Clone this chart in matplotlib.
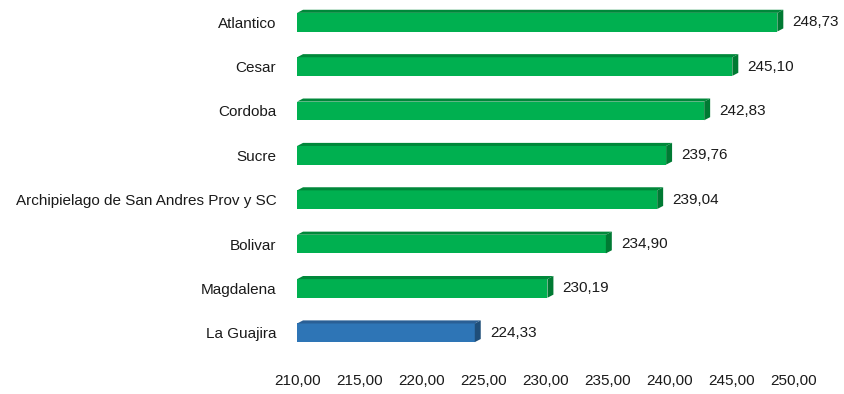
import numpy as np
import matplotlib.pyplot as plt
from matplotlib.patches import Polygon, Rectangle

plt.rcParams['font.family'] = ['Liberation Sans', 'DejaVu Sans']

# data
departamentos = ['Atlantico', 'Cesar', 'Cordoba', 'Sucre',
                 'Archipielago de San Andres Prov y SC', 'Bolivar',
                 'Magdalena', 'La Guajira']
puntajes = [248.73, 245.10, 242.83, 239.76, 239.04, 234.90, 230.19, 224.33]
destacado = 'La Guajira'
x_ticks = [210, 215, 220, 225, 230, 235, 240, 245, 250]

x0 = 210
h = 0.42       # bar thickness (category units)
dx = 0.48      # 3D depth in x (data units)
dy = 0.07      # 3D depth in y (category units)

fig = plt.figure(figsize=(8.44, 3.94), dpi=100)
ax = fig.add_axes([0.352, 0.099, 0.5877, 0.901])

n = len(departamentos)
ys = np.arange(n)[::-1]

for name, v, y in zip(departamentos, puntajes, ys):
    if name == destacado:
        front, top, side = '#2E75B6', '#2A5F95', '#1F4E79'
    else:
        front, top, side = '#00B050', '#00883A', '#007A33'
    yt = y + h / 2
    yb = y - h / 2
    ax.add_patch(Rectangle((x0, yb), v - x0, h, facecolor=front,
                           edgecolor='none'))
    ax.add_patch(Polygon([(x0, yt), (v, yt), (v + dx, yt + dy), (x0 + dx, yt + dy)],
                         closed=True, facecolor=top, edgecolor='none'))
    ax.add_patch(Polygon([(v, yb), (v, yt), (v + dx, yt + dy), (v + dx, yb + dy)],
                         closed=True, facecolor=side, edgecolor='none'))
    ax.text(v + dx + 0.75, y, f'{v:.2f}'.replace('.', ','), va='center',
            ha='left', fontsize=11, color='#1a1a1a')

ax.set_xlim(210, 250)
ax.set_ylim(-0.5, n - 0.5)
ax.set_yticks(ys)
ax.set_yticklabels(departamentos, fontsize=11, color='#1a1a1a')
ax.set_xticks(x_ticks)
ax.set_xticklabels([f'{t:.2f}'.replace('.', ',') for t in x_ticks],
                   fontsize=11, color='#1a1a1a')
ax.tick_params(axis='both', length=0)
ax.tick_params(axis='y', pad=15)
ax.tick_params(axis='x', pad=14)
for s in ax.spines.values():
    s.set_visible(False)

fig.savefig('out.png', dpi=100)
